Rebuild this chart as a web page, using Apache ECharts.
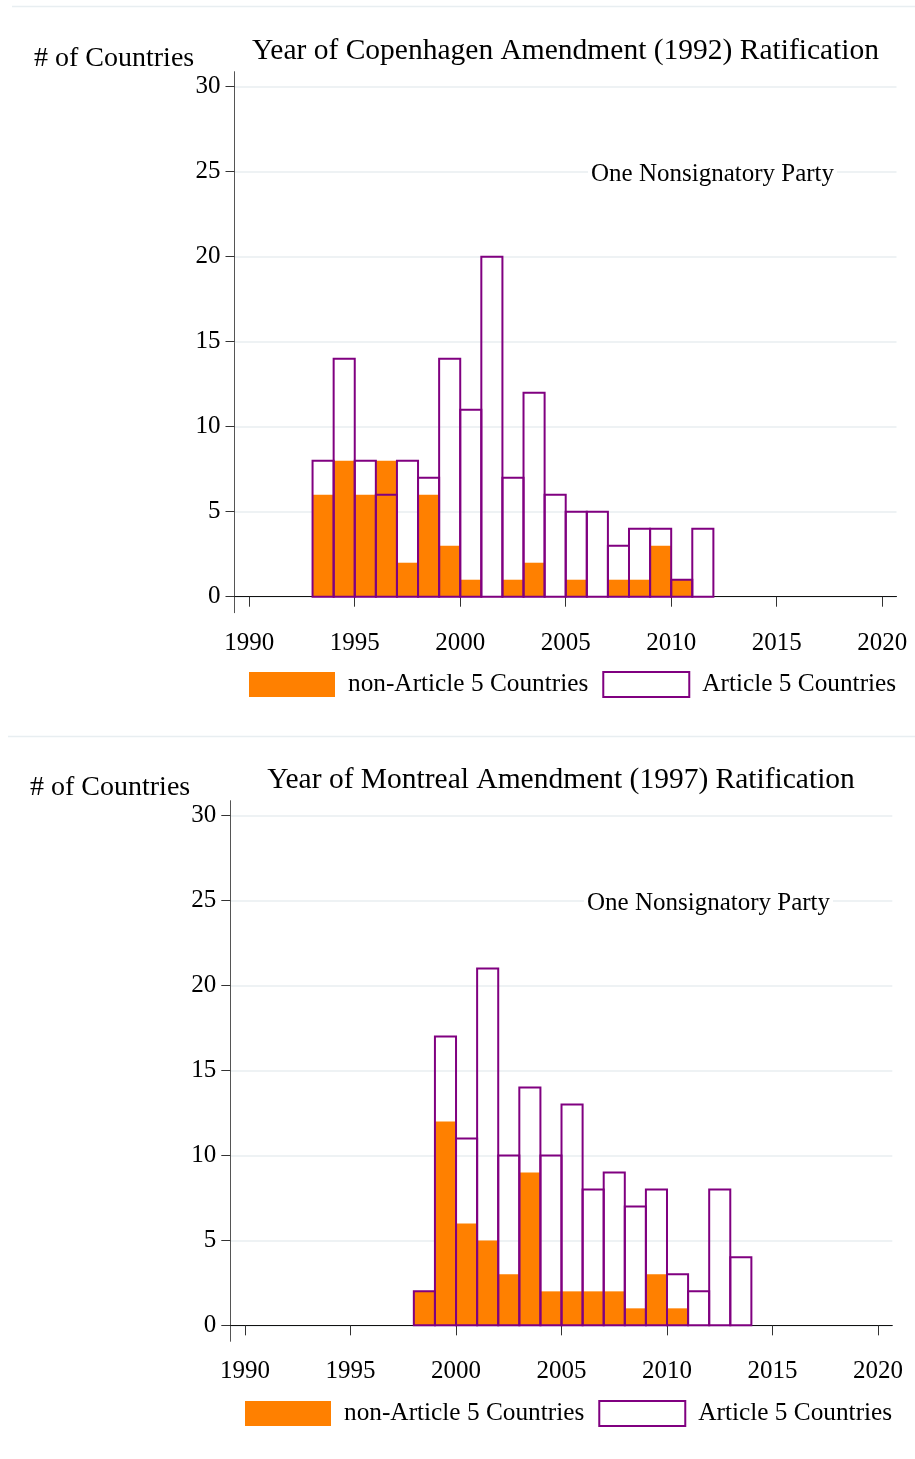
<!DOCTYPE html>
<html>
<head>
<meta charset="utf-8">
<script src="https://cdn.jsdelivr.net/npm/echarts@6/dist/echarts.min.js"></script>
<style>
html,body{margin:0;padding:0;background:#fff;}
#c{width:915px;height:1459px;}
</style>
</head>
<body>
<div id="c"></div>
<script>
// ---- data ----
const copenYears = [1993,1994,1995,1996,1997,1998,1999,2000,2001,2002,2003,2004,2005,2006,2007,2008,2009,2010,2011];
const copenNonA5 = [6,8,6,8,2,6,3,1,0,1,2,0,1,0,1,1,3,1,0];
const copenA5    = [8,14,8,6,8,7,14,11,20,7,12,6,5,5,3,4,4,1,4];

const montYears = [1998,1999,2000,2001,2002,2003,2004,2005,2006,2007,2008,2009,2010,2011,2012,2013];
const montNonA5 = [2,12,6,5,3,9,2,2,2,2,1,3,1,0,0,0];
const montA5    = [2,17,11,21,10,14,10,13,8,9,7,8,3,2,8,4];

const yTicks = [0,5,10,15,20,25,30];
const xTicks = [1990,1995,2000,2005,2010,2015,2020];

const titles = ['Year of Copenhagen Amendment (1992) Ratification','Year of Montreal Amendment (1997) Ratification'];
const yTitle = '# of Countries';
const note = 'One Nonsignatory Party';
const nameNon = 'non-Article 5 Countries';
const nameA5 = 'Article 5 Countries';

// ---- styling ----
const FONT = '"Liberation Serif","Times New Roman",serif';
const ORANGE = '#ff8000';
const PURPLE = '#800080';
const GRIDC = '#e8eef1';

const chart = echarts.init(document.getElementById('c'), null, {renderer:'canvas'});

function pair(ys, vs){ return ys.map((y,i)=>[y, vs[i]]); }

function renderBar(filled){
  return function(params, api){
    const x0 = api.value(0), v = api.value(1);
    if (!v) return null;
    const p0 = api.coord([x0, 0]);
    const p1 = api.coord([x0 + 1, v]);
    return {
      type:'rect',
      shape:{x:p0[0], y:p1[1], width:p1[0]-p0[0], height:p0[1]-p1[1]},
      style: filled ? {fill:ORANGE, stroke:null} : {fill:'none', stroke:PURPLE, lineWidth:2}
    };
  };
}

const grids = [
  {left:234.5, top:71.7, width:662, height:541},
  {left:230.3, top:800.7, width:662, height:540.6}
];

function xAxisFor(i){
  return {
    type:'value', gridIndex:i, min:1989.3, max:2020.68,
    axisLine:{show:true, lineStyle:{color:'#111', width:1}},
    axisTick:{show:true, length:10, customValues:xTicks, lineStyle:{color:'#333'}},
    axisLabel:{customValues:xTicks, margin:18, fontSize:25, fontFamily:FONT, color:'#000', formatter:(v)=>String(v)},
    splitLine:{show:false}
  };
}
function yAxisFor(i){
  return {
    type:'value', gridIndex:i, min:-0.94, max:30.88,
    axisLine:{show:true, lineStyle:{color:'#555', width:1}},
    axisTick:{show:true, length:9, customValues:yTicks, lineStyle:{color:'#333'}},
    axisLabel:{customValues:yTicks, margin:14, fontSize:25, fontFamily:FONT, color:'#000', padding:[4,0,0,0], formatter:(v)=>String(v)},
    splitLine:{show:true, lineStyle:{color:GRIDC, width:1.5}}
  };
}

function legendFor(left, top){
  return {
    left:left, top:top, orient:'horizontal', padding:0,
    itemWidth:86, itemHeight:25, itemGap:14,
    textStyle:{fontSize:25.3, fontFamily:FONT, color:'#000', padding:[0,0,0,8]},
    selectedMode:false,
    data:[
      {name:nameNon, icon:'rect', itemStyle:{color:ORANGE, borderWidth:0}},
      {name:nameA5, icon:'rect', itemStyle:{color:'#fff', borderColor:PURPLE, borderWidth:2}}
    ]
  };
}

function txt(text, x, y, size, align, bg){
  const st = {text:text, fontSize:size, fontFamily:FONT, fill:'#000', align:align||'left', verticalAlign:'middle'};
  if (bg) { st.backgroundColor = '#fff'; st.padding = [2,3]; }
  return {type:'text', x:x, y:y, z:10, style:st};
}

const option = {
  backgroundColor:'#fff',
  animation:false,
  grid: grids,
  xAxis:[xAxisFor(0), xAxisFor(1)],
  yAxis:[yAxisFor(0), yAxisFor(1)],
  legend:[legendFor(249, 671), legendFor(245, 1400)],
  series:[
    {type:'custom', name:nameNon, xAxisIndex:0, yAxisIndex:0, z:2, itemStyle:{color:ORANGE}, renderItem:renderBar(true), data:pair(copenYears, copenNonA5)},
    {type:'custom', name:nameA5, xAxisIndex:0, yAxisIndex:0, z:3, itemStyle:{color:PURPLE}, renderItem:renderBar(false), data:pair(copenYears, copenA5)},
    {type:'custom', name:nameNon, xAxisIndex:1, yAxisIndex:1, z:2, itemStyle:{color:ORANGE}, renderItem:renderBar(true), data:pair(montYears, montNonA5)},
    {type:'custom', name:nameA5, xAxisIndex:1, yAxisIndex:1, z:3, itemStyle:{color:PURPLE}, renderItem:renderBar(false), data:pair(montYears, montA5)}
  ],
  graphic:[
    {type:'line', shape:{x1:12, y1:6.5, x2:915, y2:6.5}, style:{stroke:GRIDC, lineWidth:1.5}},
    {type:'line', shape:{x1:8, y1:736.5, x2:915, y2:736.5}, style:{stroke:GRIDC, lineWidth:1.5}},
    txt(titles[0], 565.5, 51, 29.5, 'center'),
    txt(yTitle, 34, 59, 28),
    txt(note, 588, 174, 25, 'left', true),
    txt(titles[1], 561, 780, 29.5, 'center'),
    txt(yTitle, 30, 788, 28),
    txt(note, 584, 903, 25, 'left', true)
  ]
};
chart.setOption(option);
</script>
</body>
</html>
